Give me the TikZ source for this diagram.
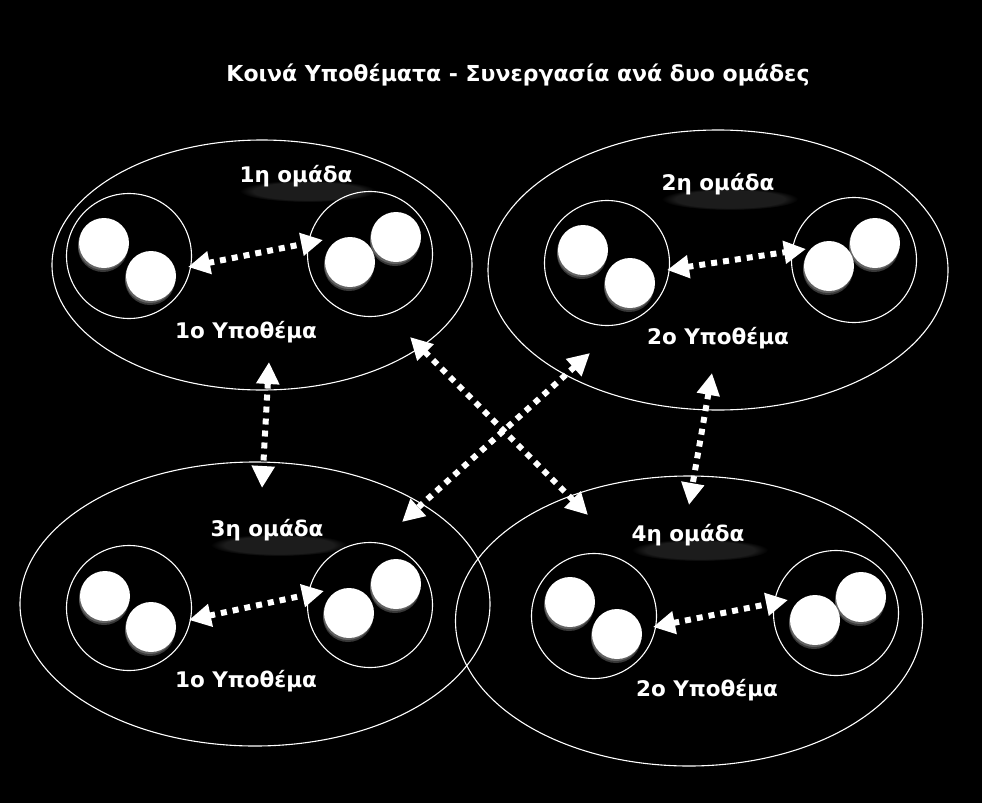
\documentclass[tikz,border=0pt]{standalone}
\usepackage{fontspec}
\setmainfont{DejaVu Sans}
\usetikzlibrary{arrows.meta,shapes.geometric,fadings}
\begin{document}
\begin{tikzpicture}[x=1pt,y=-1pt,
  grp/.style={draw=white, line width=1.1pt, ellipse, inner sep=0pt},
  sub/.style={draw=white, line width=1.1pt, circle, inner sep=0pt, minimum size=125pt},
  ballshadow/.style={fill=white, fill opacity=0.22, circle, inner sep=0pt, minimum size=50pt},
  ball/.style={fill=white, circle, inner sep=0pt, minimum size=50pt},
  lbl/.style={text=white, font=\bfseries\fontsize{21.5}{24}\selectfont, inner sep=0pt},
  ttl/.style={text=white, font=\bfseries\fontsize{22}{26}\selectfont, inner sep=0pt},
  link/.style={draw=white, line width=6pt, dash pattern=on 6pt off 6pt,
    {Triangle[length=22pt,width=22pt]}-{Triangle[length=22pt,width=22pt]}},
  glow/.style={fill=white, fill opacity=0.11, path fading=circle with fuzzy edge 20 percent},
]
\fill[black] (0,0) rectangle (982,803);
\useasboundingbox (0,0) rectangle (982,803);

\node[ttl] (title) at (518,75) {Κοινά Υποθέματα - Συνεργασία ανά δυο ομάδες};

% group ellipses
\node[grp, minimum width=420pt, minimum height=250pt] (g1) at (262,265) {};
\node[grp, minimum width=460pt, minimum height=280pt] (g2) at (718,270) {};
\node[grp, minimum width=470pt, minimum height=284pt] (g3) at (255,604) {};
\node[grp, minimum width=467pt, minimum height=290pt] (g4) at (689,621) {};

% sub circles
\node[sub] (s1a) at (129,256) {};
\node[sub] (s1b) at (370,254) {};
\node[sub] (s2a) at (607,263) {};
\node[sub] (s2b) at (854,260) {};
\node[sub] (s3a) at (129,608) {};
\node[sub] (s3b) at (370,605) {};
\node[sub] (s4a) at (594,616) {};
\node[sub] (s4b) at (836,613) {};

% balls
\foreach \n/\x/\y in {b1/104/243, b2/151/276, b3/350/262, b4/396/237,
                      b5/583/250, b6/630/283, b7/829/266, b8/875/243,
                      b9/105/596, b10/151/627, b11/349/613, b12/396/584,
                      b13/570/602, b14/617/634, b15/815/620, b16/861/597}{
  \node[ballshadow] (\n s1) at (\x-1,\y+2) {};
  \node[ballshadow] (\n s2) at (\x-1,\y+4) {};
  \node[ball] (\n) at (\x,\y) {};
}

% label glows
\foreach \x/\y in {296/176, 718/184, 267/530, 688/535}{
  \fill[glow] (\x+12,\y+15) ellipse (68 and 11);
}

% labels
\node[lbl] (l1) at (296,176) {1η ομάδα};
\node[lbl] (t1) at (246,332) {1ο Υποθέμα};
\node[lbl] (l2) at (718,184) {2η ομάδα};
\node[lbl] (t2) at (718,338) {2ο Υποθέμα};
\node[lbl] (l3) at (267,530) {3η ομάδα};
\node[lbl] (t3) at (246,681) {1ο Υποθέμα};
\node[lbl] (l4) at (688,535) {4η ομάδα};
\node[lbl] (t4) at (707,690) {2ο Υποθέμα};

% arrow end points
\coordinate (a1l) at (188,267); \coordinate (a1r) at (323,240);
\coordinate (a2l) at (667,270); \coordinate (a2r) at (806,249);
\coordinate (a3l) at (189,620); \coordinate (a3r) at (324,591);
\coordinate (a4l) at (653,627); \coordinate (a4r) at (788,600);
\coordinate (v1t) at (269,362); \coordinate (v1b) at (262,488);
\coordinate (v2t) at (712,373); \coordinate (v2b) at (689,505);
\coordinate (d1t) at (410,337); \coordinate (d1b) at (588,515);
\coordinate (d2t) at (590,353); \coordinate (d2b) at (402,522);

\draw[link] (a1l) -- (a1r);
\draw[link] (a2l) -- (a2r);
\draw[link] (a3l) -- (a3r);
\draw[link] (a4l) -- (a4r);
\draw[link] (v1t) -- (v1b);
\draw[link] (v2t) -- (v2b);
\draw[link] (d1t) -- (d1b);
\draw[link] (d2t) -- (d2b);
\end{tikzpicture}
\end{document}
